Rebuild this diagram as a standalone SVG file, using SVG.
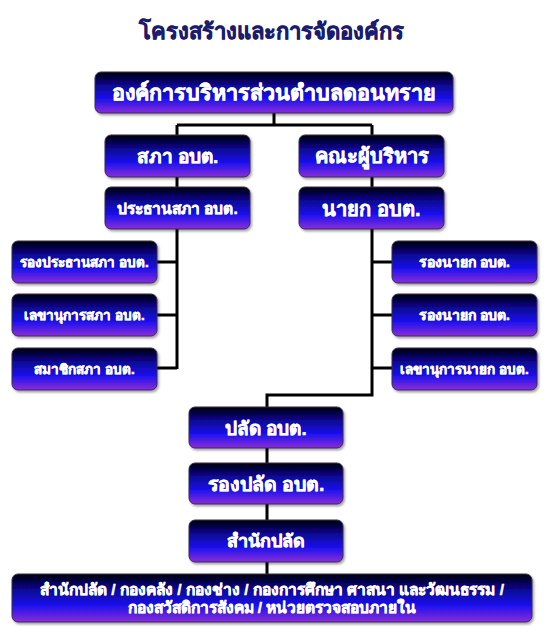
<svg xmlns="http://www.w3.org/2000/svg" width="550" height="642" viewBox="0 0 550 642">
<defs>
<linearGradient id="g" x1="0" y1="0" x2="0" y2="1">
<stop offset="0" stop-color="#000008"/>
<stop offset="0.3" stop-color="#0a0688"/>
<stop offset="0.65" stop-color="#1a10ee"/>
<stop offset="1" stop-color="#8a2ed8"/>
</linearGradient>
<filter id="sh" x="-10%" y="-10%" width="130%" height="140%">
<feDropShadow dx="1.5" dy="2" stdDeviation="1.2" flood-color="#000" flood-opacity="0.35"/>
</filter>
</defs>
<style>
.box{fill:url(#g);stroke:#3a2a50;stroke-width:1;filter:url(#sh)}
.t{font-family:"Liberation Sans","Noto Sans",sans-serif;font-weight:bold;fill:#fff;stroke:#fff;stroke-width:0.5;text-anchor:middle;dominant-baseline:central}
.title{font-family:"Liberation Sans","Noto Sans",sans-serif;font-weight:bold;fill:#1c1c6e;stroke:#1c1c6e;stroke-width:0.5;text-anchor:middle;font-size:22px}
.c{stroke:#000;stroke-width:3;fill:none}
</style>
<rect width="550" height="642" fill="#fff"/>
<text class="title" x="271" y="39">โครงสร้างและการจัดองค์กร</text>
<g id="connectors">
<path class="c" d="M274,113 V125 M177,125 H372 M177,125 V369 M157,262 H177 M157,315 H177 M157,368 H177 M372,125 V395 H267 V574 M372,262 H392 M372,315 H392 M372,368 H392"/>
</g>
<g id="n-top"><rect class="box" x="95" y="72" width="358" height="41" rx="6"/><text class="t" x="274" y="93" font-size="21.5">องค์การบริหารส่วนตำบลดอนทราย</text></g>
<g id="n-sapha"><rect class="box" x="105" y="135" width="145" height="42" rx="6"/><text class="t" x="177.5" y="156" font-size="19">สภา อบต.</text></g>
<g id="n-khana"><rect class="box" x="299" y="135" width="145" height="42" rx="6"/><text class="t" x="371.5" y="156" font-size="20">คณะผู้บริหาร</text></g>
<g id="n-prathan"><rect class="box" x="105" y="187" width="145" height="42" rx="6"/><text class="t" x="177.5" y="208" font-size="15.5">ประธานสภา อบต.</text></g>
<g id="n-nayok"><rect class="box" x="299" y="187" width="145" height="42" rx="6"/><text class="t" x="371.5" y="209" font-size="20">นายก อบต.</text></g>
<g id="n-rongprathan"><rect class="box" x="12" y="241" width="145" height="42" rx="6"/><text class="t" x="84.5" y="262" font-size="13.5">รองประธานสภา อบต.</text></g>
<g id="n-lekha-sapha"><rect class="box" x="12" y="294" width="145" height="42" rx="6"/><text class="t" x="84.5" y="315" font-size="13.5">เลขานุการสภา อบต.</text></g>
<g id="n-samachik"><rect class="box" x="12" y="348" width="145" height="42" rx="6"/><text class="t" x="84.5" y="369" font-size="13.5">สมาชิกสภา อบต.</text></g>
<g id="n-rongnayok1"><rect class="box" x="392" y="241" width="145" height="42" rx="6"/><text class="t" x="464.5" y="262" font-size="14">รองนายก อบต.</text></g>
<g id="n-rongnayok2"><rect class="box" x="392" y="294" width="145" height="42" rx="6"/><text class="t" x="464.5" y="315" font-size="14">รองนายก อบต.</text></g>
<g id="n-lekha-nayok"><rect class="box" x="392" y="348" width="145" height="42" rx="6"/><text class="t" x="464.5" y="369" font-size="13.5">เลขานุการนายก อบต.</text></g>
<g id="n-palad"><rect class="box" x="189" y="407" width="154" height="41" rx="6"/><text class="t" x="266" y="428" font-size="19">ปลัด อบต.</text></g>
<g id="n-rongpalad"><rect class="box" x="189" y="463" width="154" height="41" rx="6"/><text class="t" x="266" y="484" font-size="19.5">รองปลัด อบต.</text></g>
<g id="n-samnak"><rect class="box" x="189" y="520" width="154" height="42" rx="6"/><text class="t" x="266" y="541" font-size="18">สำนักปลัด</text></g>
<g id="n-bottom"><rect class="box" x="12" y="574" width="520" height="48" rx="6"/>
<text class="t" x="272" y="589" font-size="15.5">สำนักปลัด / กองคลัง / กองช่าง / กองการศึกษา ศาสนา และวัฒนธรรม /</text>
<text class="t" x="272" y="607" font-size="15.5">กองสวัสดิการสังคม / หน่วยตรวจสอบภายใน</text></g>
</svg>
